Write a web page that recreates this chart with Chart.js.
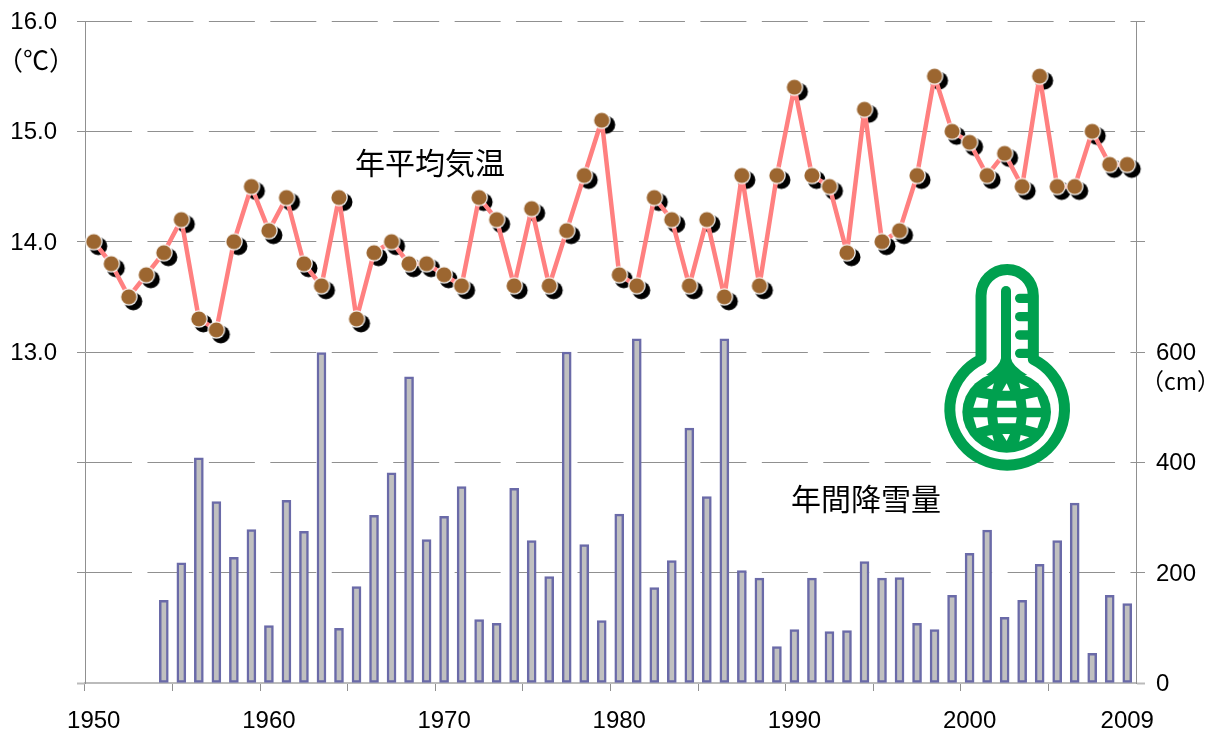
<!DOCTYPE html>
<html lang="ja">
<head>
<meta charset="utf-8">
<title>年平均気温と年間降雪量</title>
<script src="https://cdn.jsdelivr.net/npm/chart.js@4"></script>
<style>
html,body{margin:0;padding:0;background:#fff;overflow:hidden}
#wrap{position:relative;width:1218px;height:729px}
canvas{display:block}
#icon{position:absolute;left:900px;top:240px;width:318px;height:250px;pointer-events:none}
</style>
</head>
<body>
<div id="wrap">
<canvas id="c" width="1218" height="729"></canvas>
<svg id="icon" viewBox="0 0 954 750" xmlns="http://www.w3.org/2000/svg">
  <path d="M243,358 L243,167 A78.5,78.5 0 0 1 400,167 L400,358 A172,168 0 1 1 243,358 Z" fill="#fff" stroke="#00a04f" stroke-width="33" stroke-linejoin="round"/>
  <ellipse cx="320" cy="516" rx="133" ry="122" fill="#00a04f"/>
  <path d="M318,153 L318,385" stroke="#00a04f" stroke-width="30" stroke-linecap="round" fill="none"/>
  <path d="M303,355 Q300,378 258,405 L382,405 Q336,378 333,355 Z" fill="#00a04f"/>
  <g stroke="#00a04f" stroke-width="28" stroke-linecap="round" fill="none">
    <path d="M359,175 L400,175"/><path d="M359,230 L400,230"/><path d="M359,285 L400,285"/><path d="M359,340 L400,340"/>
  </g>
  <g fill="#fff">
    <polygon points="260,445 282,430 277,448"/>
    <polygon points="320,430 307,452 330,452"/>
    <polygon points="358,428 388,443 362,448"/>
    <polygon points="230,472 265,478 262,503 220,503"/>
    <polygon points="292,482 347,482 350,503 290,503"/>
    <polygon points="377,478 412,470 423,503 380,503"/>
    <polygon points="220,532 262,532 265,555 230,565"/>
    <polygon points="292,532 350,532 347,550 294,550"/>
    <polygon points="380,532 423,532 412,565 377,555"/>
    <polygon points="260,588 277,585 282,603"/>
    <polygon points="307,582 330,582 320,603"/>
    <polygon points="362,585 388,592 358,605"/>
  </g>
</svg>
</div>
<script>
const years = [1950,1951,1952,1953,1954,1955,1956,1957,1958,1959,1960,1961,1962,1963,1964,1965,1966,1967,1968,1969,1970,1971,1972,1973,1974,1975,1976,1977,1978,1979,1980,1981,1982,1983,1984,1985,1986,1987,1988,1989,1990,1991,1992,1993,1994,1995,1996,1997,1998,1999,2000,2001,2002,2003,2004,2005,2006,2007,2008,2009];
const temperature = [14.0,13.8,13.5,13.7,13.9,14.2,13.3,13.2,14.0,14.5,14.1,14.4,13.8,13.6,14.4,13.3,13.9,14.0,13.8,13.8,13.7,13.6,14.4,14.2,13.6,14.3,13.6,14.1,14.6,15.1,13.7,13.6,14.4,14.2,13.6,14.2,13.5,14.6,13.6,14.6,15.4,14.6,14.5,13.9,15.2,14.0,14.1,14.6,15.5,15.0,14.9,14.6,14.8,14.5,15.5,14.5,14.5,15.0,14.7,14.7];
const snowfall = [null,null,null,null,150,218,408,329,228,278,104,331,275,599,99,175,304,381,555,260,302,356,115,108,353,258,193,600,251,113,306,624,173,222,462,338,624,204,190,66,97,190,93,95,220,190,191,108,97,159,235,277,119,150,215,258,326,54,159,144];
const labelledYears = [1950,1960,1970,1980,1990,2000,2009];
const tempTicksShownFrom = 13;
const snowTicksShownTo = 600;
const temperatureLabel = '年平均気温';
const snowfallLabel = '年間降雪量';
const tempUnit = '（℃）';
const snowUnit = '（cm）';

function markerImage(draw){
  const s = document.createElement('canvas');
  s.width = 40; s.height = 40;
  draw(s.getContext('2d'));
  return s;
}
const shadowMark = markerImage(g=>{
  g.fillStyle='#000'; g.beginPath(); g.arc(24.5,24.5,9,0,Math.PI*2); g.fill();
});
const pointMark = markerImage(g=>{
  g.fillStyle='#fff'; g.beginPath(); g.arc(20,20,8.8,0,Math.PI*2); g.fill();
  g.fillStyle='#9c6630'; g.beginPath(); g.arc(20,20,7.6,0,Math.PI*2); g.fill();
});

const AXIS='#909090', BASE='#bbbbbb';
const tickFont={family:'"Liberation Sans",Arial,sans-serif',size:24};
function fixY(w){return s=>{s.width=w;s.paddingTop=0;s.paddingBottom=0;};}

const annotations={
  id:'annotations',
  beforeDraw(chart){
    ['yT','yS'].forEach(id=>{
      chart.scales[id].getLabelItems().forEach(it=>{
        if(!it.options._moved){it.options._moved=true;it.options.translation[1]+=1.5;}
      });
    });
  },
  afterDraw(chart){
    const g=chart.ctx;
    g.save();
    g.fillStyle='#000';
    g.textBaseline='middle';
    g.textAlign='left';
    g.font='30px "Noto Sans CJK JP"';
    g.fillText(temperatureLabel,355,163);
    g.fillText(snowfallLabel,791,499);
    g.font='26px "Noto Sans CJK JP"';
    g.fillText(tempUnit,-3,60);
    g.font='23px "Noto Sans CJK JP"';
    g.fillText(snowUnit,1141,381);
    g.restore();
  }
};

new Chart(document.getElementById('c'),{
  data:{
    labels:years,
    datasets:[
      {type:'line',label:'影',data:temperature,yAxisID:'yT',showLine:false,order:3,
       pointStyle:shadowMark,pointRadius:8},
      {type:'line',label:temperatureLabel,data:temperature,yAxisID:'yT',order:1,
       borderColor:'#ff8080',borderWidth:4.5,tension:0,borderJoinStyle:'round',
       pointStyle:pointMark,pointRadius:8},
      {type:'bar',label:snowfallLabel,data:snowfall,yAxisID:'yS',order:2,
       backgroundColor:'#c0c0c0',borderColor:'#6a6aa8',borderWidth:2.5,barThickness:9,borderSkipped:false}
    ]
  },
  options:{
    responsive:false,
    animation:false,
    layout:{padding:{top:21,left:0,right:0,bottom:0}},
    plugins:{legend:{display:false},tooltip:{enabled:false},title:{display:false}},
    scales:{
      x:{
        type:'category',offset:true,
        afterFit(s){s.height=46;s.paddingLeft=0;s.paddingRight=0;},
        border:{color:BASE,width:2},
        grid:{offset:true,drawOnChartArea:false,tickLength:8,
          tickColor:c=>c.index%5===0?AXIS:'rgba(0,0,0,0)'},
        ticks:{autoSkip:false,maxRotation:0,minRotation:0,padding:16,color:'#000',font:tickFont,
          callback(v,i){return labelledYears.includes(years[i])?String(years[i]):'';}}
      },
      yT:{
        position:'left',min:10,max:16,
        afterFit:fixY(85),
        border:{color:AXIS,width:1,dash:[46,15.44]},
        grid:{color:c=>c.tick&&c.tick.value===10?'rgba(0,0,0,0)':AXIS,
          tickLength:8,
          tickColor:c=>c.tick&&c.tick.value===10?BASE:AXIS,
          tickWidth:c=>c.tick&&c.tick.value===10?2:1},
        ticks:{stepSize:1,padding:20,color:'#000',font:tickFont,
          callback:v=>v>=tempTicksShownFrom?v.toFixed(1):''}
      },
      yS:{
        position:'right',min:0,max:1200,
        afterFit:fixY(82),
        border:{color:AXIS,width:1},
        grid:{drawOnChartArea:false,tickLength:9,
          tickColor:c=>c.tick&&c.tick.value===0?BASE:AXIS,
          tickWidth:c=>c.tick&&c.tick.value===0?2:1},
        ticks:{stepSize:200,padding:11,color:'#000',font:tickFont,
          callback:v=>v<=snowTicksShownTo?String(v):''}
      }
    }
  },
  plugins:[annotations]
});
</script>
</body>
</html>
